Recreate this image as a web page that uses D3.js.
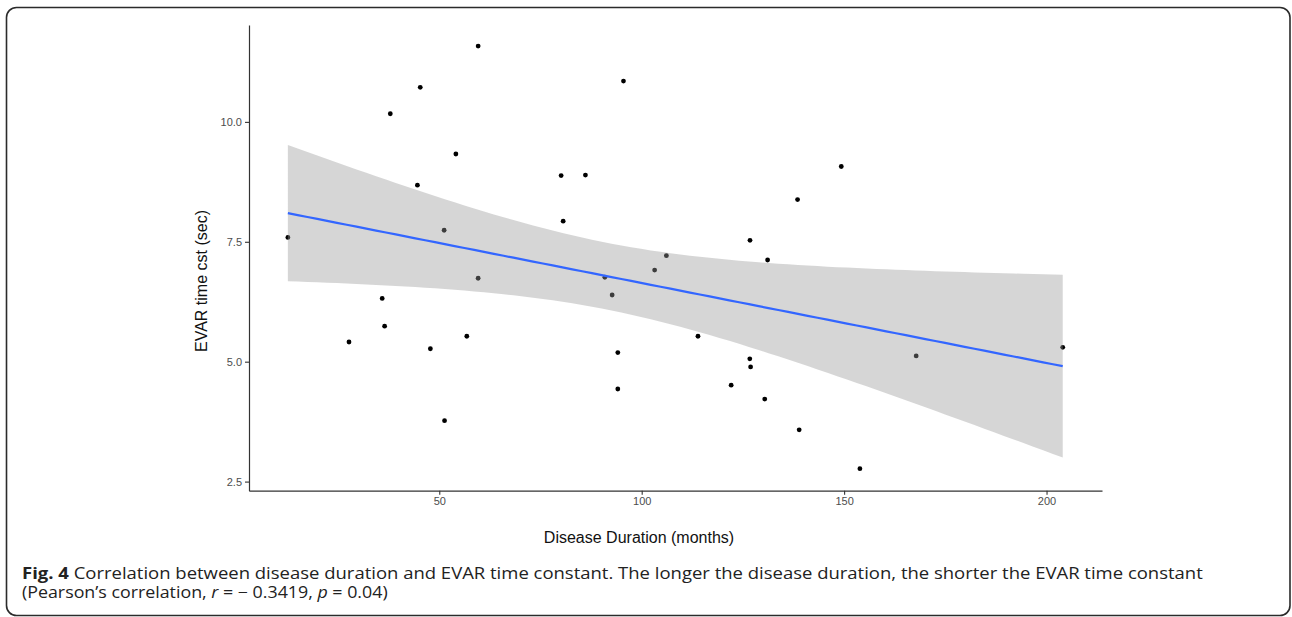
<!DOCTYPE html>
<html>
<head>
<meta charset="utf-8">
<script src="https://cdn.jsdelivr.net/npm/d3@7"></script>
<style>
  body { margin: 0; background: #fff; }
  svg { display: block; }
</style>
</head>
<body>
<div class="canvas"></div>
<script>
// data
const duration = [12.6, 27.7, 35.9, 36.5, 37.9, 44.6, 45.3, 47.8, 51.2, 51.3, 54.1, 56.8, 59.6, 59.6,
    80.1, 80.6, 86.1, 90.9, 92.7, 94.1, 94.1, 95.5, 103.2, 106.1, 113.9, 122.1, 126.75, 126.7, 126.9,
    130.4, 131.1, 138.5, 138.9, 149.3, 153.9, 167.8, 204.0];
const evarTime = [7.59, 5.41, 6.32, 5.74, 10.17, 8.68, 10.72, 5.27, 7.74, 3.77, 9.33, 5.53, 11.58, 6.74,
    8.88, 7.93, 8.89, 6.76, 6.39, 5.19, 4.43, 10.85, 6.91, 7.21, 5.53, 4.51, 7.53, 5.06, 4.89,
    4.22, 7.12, 8.38, 3.58, 9.07, 2.77, 5.12, 5.30];
const xTicks = [50, 100, 150, 200];
const yTicks = [2.5, 5.0, 7.5, 10.0];

const svg = d3.select('.canvas')
    .append('svg')
    .attr('width', 1292)
    .attr('height', 617);

// outer frame
svg.append('rect')
    .attr('x', 6.5).attr('y', 7.5)
    .attr('width', 1283.5).attr('height', 608)
    .attr('rx', 10)
    .attr('fill', 'none')
    .attr('stroke', '#2b2b2b')
    .attr('stroke-width', 1.6);

const margin = { top: 25, left: 249 };
const graphWidth = 1102 - margin.left;
const graphHeight = 490.7 - margin.top;

const graph = svg.append('g')
    .attr('transform', `translate(${margin.left}, ${margin.top})`);

// scales
const x = d3.scaleLinear().domain([3.0, 213.7]).range([0, graphWidth]);
const y = d3.scaleLinear().domain([2.31, 12.02]).range([graphHeight, 0]);

// linear fit + 95% band
const n = duration.length;
const mx = d3.mean(duration), my = d3.mean(evarTime);
const sxx = d3.sum(duration, d => (d - mx) ** 2);
const sxy = d3.sum(duration, (d, i) => (d - mx) * (evarTime[i] - my));
const slope = sxy / sxx;
const icpt = my - slope * mx;
const sse = d3.sum(duration, (d, i) => (evarTime[i] - (icpt + slope * d)) ** 2);
const se = Math.sqrt(sse / (n - 2));
const tcrit = 2.0301; // t(0.975, df = 35)
const [xmin, xmax] = d3.extent(duration);
const fit = d3.range(80).map(i => {
    const xv = xmin + (xmax - xmin) * i / 79;
    const yv = icpt + slope * xv;
    const h = tcrit * se * Math.sqrt(1 / n + (xv - mx) ** 2 / sxx);
    return { x: xv, y: yv, lo: yv - h, hi: yv + h };
});

// points first, ribbon drawn on top with alpha (as ggplot does)
graph.selectAll('circle')
    .data(duration)
    .enter()
    .append('circle')
    .attr('cx', d => x(d))
    .attr('cy', (d, i) => y(evarTime[i]))
    .attr('r', 2.4)
    .attr('fill', '#000');

graph.append('path')
    .datum(fit)
    .attr('fill', '#999999')
    .attr('fill-opacity', 0.4)
    .attr('d', d3.area().x(d => x(d.x)).y0(d => y(d.lo)).y1(d => y(d.hi)));

graph.append('path')
    .datum(fit)
    .attr('fill', 'none')
    .attr('stroke', '#3366FF')
    .attr('stroke-width', 2.2)
    .attr('d', d3.line().x(d => x(d.x)).y(d => y(d.y)));

// axes
const xAxisGroup = graph.append('g')
    .attr('transform', `translate(0, ${graphHeight})`)
    .call(d3.axisBottom(x).tickValues(xTicks).tickSize(4).tickSizeOuter(0).tickPadding(3));
const yAxisGroup = graph.append('g')
    .call(d3.axisLeft(y).tickValues(yTicks).tickFormat(d3.format('.1f')).tickSize(4).tickSizeOuter(0).tickPadding(3));

[xAxisGroup, yAxisGroup].forEach(g => {
    g.select('.domain').attr('stroke', '#333').attr('stroke-width', 1.2);
    g.selectAll('.tick line').attr('stroke', '#333').attr('stroke-width', 1.1);
    g.selectAll('text')
        .attr('font-family', '"Liberation Sans", Arial, sans-serif')
        .attr('font-size', 11)
        .attr('fill', '#4d4d4d');
});

// axis titles
svg.append('text')
    .attr('x', 639).attr('y', 543)
    .attr('text-anchor', 'middle')
    .attr('font-family', '"Liberation Sans", Arial, sans-serif')
    .attr('font-size', 16)
    .attr('fill', '#111')
    .text('Disease Duration (months)');

svg.append('text')
    .attr('transform', 'translate(207, 281) rotate(-90)')
    .attr('text-anchor', 'middle')
    .attr('font-family', '"Liberation Sans", Arial, sans-serif')
    .attr('font-size', 16)
    .attr('fill', '#111')
    .text('EVAR time cst (sec)');

// caption
const cap1 = svg.append('text')
    .attr('font-family', '"Open Sans", "Noto Sans", sans-serif')
    .attr('font-size', 15.5)
    .attr('fill', '#222');
cap1.append('tspan').attr('font-weight', 'bold').text('Fig. 4');
cap1.append('tspan').text(' Correlation between disease duration and EVAR time constant. The longer the disease duration, the shorter the EVAR time constant');

const cap2 = svg.append('text')
    .attr('font-family', '"Open Sans", "Noto Sans", sans-serif')
    .attr('font-size', 15.5)
    .attr('fill', '#222');
cap2.append('tspan').text('(Pearson\u2019s correlation, ');
cap2.append('tspan').attr('font-style', 'italic').text('r');
cap2.append('tspan').text(' = \u2212 0.3419, ');
cap2.append('tspan').attr('font-style', 'italic').text('p');
cap2.append('tspan').text(' = 0.04)');

// squeeze caption lines to the width they take in the figure
const fitWidth = (sel, x0, y0, w) => {
    const k = w / sel.node().getComputedTextLength();
    sel.attr('transform', `translate(${x0}, ${y0}) scale(${k}, 1)`);
};
fitWidth(cap1, 22, 579, 1182);
fitWidth(cap2, 22, 598, 366);
</script>
</body>
</html>
